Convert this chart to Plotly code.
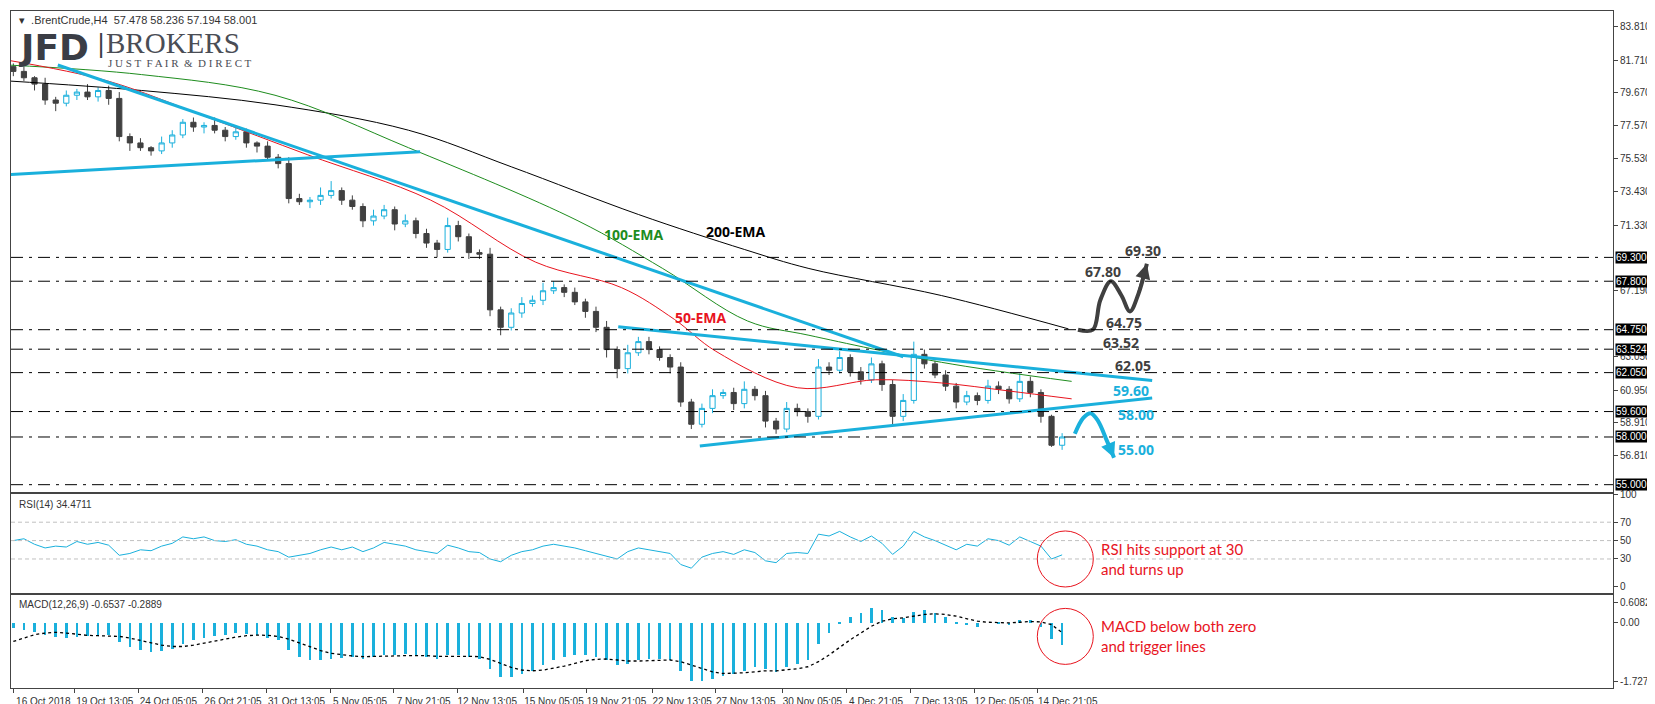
import plotly.graph_objects as go
from plotly.subplots import make_subplots

# ---- price data (H4 bars, condensed) ----
closes = [81.0, 80.6, 80.2, 79.2, 79.0, 79.5, 79.7, 79.4, 79.8, 79.3,
          76.9, 76.5, 76.2, 76.0, 76.5, 77.0, 77.8, 77.5, 77.6, 77.3,
          76.9, 77.2, 76.5, 76.3, 75.6, 75.2, 73.0, 72.8, 72.9, 73.2,
          73.5, 72.9, 72.5, 71.6, 71.9, 72.3, 71.4, 71.6, 70.8, 70.2,
          69.8, 71.3, 70.6, 69.6, 69.5, 66.0, 64.9, 65.8, 66.4, 66.6,
          67.2, 67.4, 67.1, 66.5, 65.9, 64.9, 63.5, 62.3, 63.3, 64.0,
          63.5, 63.0, 62.4, 60.2, 58.8, 59.8, 60.6, 60.8, 60.1, 61.0,
          60.6, 59.0, 58.5, 59.8, 59.6, 59.3, 62.4, 62.2, 63.0, 62.1,
          61.6, 62.6, 61.3, 59.3, 60.3, 63.2, 62.6, 61.9, 61.2, 60.2,
          60.6, 60.3, 61.2, 61.0, 60.4, 61.5, 60.8, 59.3, 57.48, 58.001]
first_open = 81.3
up_wick = [0.2, 0.3, 0.1, 0.4, 0.2, 0.3, 0.2, 0.5, 0.2, 0.3,
           0.4, 0.2, 0.3, 0.1, 0.4, 0.3, 0.2, 0.3, 0.2, 0.5,
           0.2, 0.3, 0.2, 0.1, 0.3, 0.2, 0.4, 0.3, 0.2, 0.5,
           0.6, 0.2, 0.3, 0.2, 0.4, 0.3, 0.2, 0.4, 0.2, 0.3,
           0.2, 0.5, 0.3, 0.2, 0.2, 0.4, 0.2, 0.3, 0.4, 0.3,
           0.5, 0.4, 0.2, 0.3, 0.2, 0.3, 0.4, 0.2, 0.5, 0.3,
           0.3, 0.2, 0.2, 0.3, 0.2, 0.3, 0.4, 0.2, 0.3, 0.5,
           0.2, 0.3, 0.2, 0.4, 0.3, 0.2, 0.5, 0.3, 0.4, 0.2,
           0.3, 0.4, 0.2, 0.3, 0.4, 0.8, 0.3, 0.2, 0.3, 0.2,
           0.3, 0.2, 0.4, 0.3, 0.2, 0.5, 0.3, 0.2, 0.1, 0.24]
lo_wick = [0.3, 0.2, 0.4, 0.3, 0.5, 0.2, 0.3, 0.2, 0.3, 0.4,
           0.3, 0.5, 0.2, 0.3, 0.2, 0.3, 0.2, 0.3, 0.4, 0.2,
           0.3, 0.2, 0.3, 0.4, 0.2, 0.3, 0.3, 0.2, 0.4, 0.3,
           0.2, 0.3, 0.2, 0.4, 0.3, 0.2, 0.4, 0.2, 0.3, 0.3,
           0.5, 0.2, 0.3, 0.4, 0.3, 0.4, 0.5, 0.2, 0.3, 0.2,
           0.3, 0.2, 0.3, 0.2, 0.4, 0.3, 0.5, 0.6, 0.3, 0.2,
           0.3, 0.2, 0.4, 0.3, 0.3, 0.2, 0.3, 0.2, 0.4, 0.3,
           0.3, 0.4, 0.3, 0.2, 0.3, 0.4, 0.2, 0.3, 0.2, 0.3,
           0.3, 0.2, 0.4, 0.5, 0.3, 0.2, 0.3, 0.2, 0.3, 0.4,
           0.2, 0.3, 0.2, 0.3, 0.3, 0.2, 0.3, 0.4, 0.1, 0.29]

# ---- moving averages (sparse readings: bar, price) ----
ema200_x = [-0.5, 12.1, 24.7, 37.3, 47, 59, 69, 75.1, 87.6, 99.6]
ema200_y = [80.4, 79.8, 78.9, 77.3, 75.0, 72.0, 69.8, 68.6, 66.9, 64.8]
ema100_x = [-0.5, 12.1, 24.7, 37.3, 53.3, 61.3, 69.3, 75.1, 87.6, 99.9]
ema100_y = [81.4, 80.8, 79.5, 76.2, 71.6, 68.6, 65.3, 64.4, 62.7, 61.5]
ema50_x = [-0.5, 8.9, 18.4, 27.8, 39.4, 49.3, 57.4, 62.4, 66.3, 74, 81.4, 87.6, 93.9, 99.9]
ema50_y = [81.7, 80.4, 78.1, 75.75, 72.9, 69.0, 67.4, 65.4, 63.4, 61.1, 61.6, 61.4, 60.9, 60.4]

# ---- trend lines ----
trend_lines = [
    ([-0.5, 38.4], [74.5, 75.95]),
    ([4.2, 84.0], [81.4, 63.05]),
    ([57.1, 107.5], [64.94, 61.55]),
    ([64.8, 107.5], [57.44, 60.45]),
]

levels = [69.3, 67.8, 64.75, 63.524, 62.05, 59.6, 58.0, 55.0]
level_text = ["69.300", "67.800", "64.750", "63.524", "62.050", "59.600", "58.000", "55.000"]
price_ticks = [83.81, 81.71, 79.67, 77.57, 75.53, 73.43, 71.33, 67.19, 63.05, 60.95, 58.91, 56.81]

# ---- scenario arrows ----
bull_x = [100.5, 101.9, 102.6, 103.6, 104.6, 105.4, 106.2, 107.0]
bull_y = [64.75, 64.75, 66.6, 67.8, 66.9, 65.9, 67.0, 68.9]
bear_x = [100.2, 101.0, 101.7, 102.4, 103.2, 103.9]
bear_y = [58.2, 59.2, 59.5, 59.0, 57.8, 56.7]

# ---- RSI(14) ----
rsi = [50, 52, 46, 42, 44, 43, 49, 46, 48, 45,
       34, 36, 40, 39, 44, 47, 54, 52, 54, 50,
       49, 51, 46, 44, 40, 38, 32, 34, 36, 40,
       43, 40, 43, 38, 42, 48, 46, 44, 40, 38,
       36, 45, 42, 38, 37, 30, 27, 34, 38, 40,
       44, 46, 44, 42, 39, 36, 33, 30, 38, 42,
       40, 38, 36, 24, 20, 32, 36, 38, 35, 40,
       37, 28, 26, 36, 37, 36, 57, 55, 60, 54,
       49, 55, 47, 35, 44, 60, 54, 50, 45, 40,
       46, 44, 52, 50, 45, 54, 49, 44, 30, 34.47]

# ---- MACD(12,26,9) ----
macd_main = [-0.15, -0.2, -0.25, -0.35, -0.4, -0.42, -0.4, -0.38, -0.36, -0.36,
             -0.55, -0.7, -0.8, -0.85, -0.82, -0.75, -0.6, -0.5, -0.42, -0.38,
             -0.36, -0.3, -0.32, -0.35, -0.42, -0.5, -0.8, -1.0, -1.1, -1.1,
             -1.05, -1.02, -1.0, -1.05, -1.0, -0.95, -0.95, -0.92, -0.95, -1.0,
             -1.05, -0.95, -0.95, -1.0, -1.05, -1.35, -1.6, -1.6, -1.5, -1.4,
             -1.25, -1.1, -1.0, -0.95, -0.95, -1.0, -1.1, -1.25, -1.2, -1.1,
             -1.05, -1.05, -1.1, -1.4, -1.7, -1.72, -1.65, -1.55, -1.5, -1.4,
             -1.3, -1.35, -1.45, -1.3, -1.2, -1.1, -0.6, -0.3, 0.05, 0.2,
             0.3, 0.45, 0.4, 0.2, 0.15, 0.35, 0.4, 0.3, 0.2, 0.05,
             -0.05, -0.1, 0.0, 0.05, -0.05, 0.1, 0.1, -0.1, -0.45, -0.6537]
macd_signal = [-0.55, -0.45, -0.35, -0.3, -0.28, -0.3, -0.34, -0.37, -0.38, -0.38,
               -0.4, -0.45, -0.52, -0.6, -0.66, -0.7, -0.7, -0.66, -0.6, -0.52,
               -0.46, -0.42, -0.38, -0.36, -0.37, -0.4, -0.48, -0.6, -0.72, -0.82,
               -0.9, -0.95, -0.98, -1.0, -1.0, -1.0, -0.98, -0.97, -0.96, -0.97,
               -0.99, -1.0, -0.99, -0.99, -1.0, -1.08, -1.2, -1.32, -1.4, -1.42,
               -1.4, -1.35, -1.28, -1.2, -1.12, -1.08, -1.07, -1.1, -1.13, -1.13,
               -1.12, -1.1, -1.1, -1.15, -1.25, -1.35, -1.45, -1.5, -1.5, -1.48,
               -1.45, -1.42, -1.42, -1.4, -1.36, -1.3, -1.15, -0.95, -0.72, -0.5,
               -0.3, -0.1, 0.05, 0.12, 0.15, 0.2, 0.25, 0.27, 0.25, 0.2,
               0.12, 0.05, 0.02, 0.0, 0.0, 0.02, 0.04, 0.03, -0.05, -0.2889]

date_pos = [0, 5.8, 11.8, 17.9, 23.9, 29.9, 35.9, 41.9, 48.2, 54.1, 60.3, 66.3, 72.6, 78.6, 84.7, 90.7, 96.7]
date_text = ["16 Oct 2018", "19 Oct 13:05", "24 Oct 05:05", "26 Oct 21:05", "31 Oct 13:05",
             "5 Nov 05:05", "7 Nov 21:05", "12 Nov 13:05", "15 Nov 05:05", "19 Nov 21:05",
             "22 Nov 13:05", "27 Nov 13:05", "30 Nov 05:05", "4 Dec 21:05", "7 Dec 13:05",
             "12 Dec 05:05", "14 Dec 21:05"]

CYAN = "#1ab0dc"
DARK = "#404040"
FONT = "Liberation Sans"

bars = list(range(len(closes)))
opens = [first_open] + closes[:-1]
highs = [max(o, c) + w for o, c, w in zip(opens, closes, up_wick)]
lows = [min(o, c) - w for o, c, w in zip(opens, closes, lo_wick)]

fig = make_subplots(rows=3, cols=1, shared_xaxes=True, vertical_spacing=0.003)

fig.add_trace(go.Candlestick(
    x=bars, open=opens, high=highs, low=lows, close=closes,
    increasing=dict(line=dict(color=CYAN, width=1), fillcolor="white"),
    decreasing=dict(line=dict(color=DARK, width=1), fillcolor=DARK),
    whiskerwidth=0, showlegend=False), row=1, col=1)

for xs, ys, col in [(ema200_x, ema200_y, "black"), (ema100_x, ema100_y, "#1e8c1e"),
                    (ema50_x, ema50_y, "#e8141e")]:
    fig.add_trace(go.Scatter(x=xs, y=ys, mode="lines", line=dict(color=col, width=1, shape="spline"),
                             showlegend=False), row=1, col=1)

for xs, ys in trend_lines:
    fig.add_trace(go.Scatter(x=xs, y=ys, mode="lines", line=dict(color=CYAN, width=3),
                             showlegend=False), row=1, col=1)

fig.add_trace(go.Scatter(x=bull_x, y=bull_y, mode="lines",
                         line=dict(color=DARK, width=4, shape="spline"), showlegend=False), row=1, col=1)
fig.add_trace(go.Scatter(x=bear_x, y=bear_y, mode="lines",
                         line=dict(color=CYAN, width=4, shape="spline"), showlegend=False), row=1, col=1)

fig.add_trace(go.Scatter(x=bars, y=rsi, mode="lines", line=dict(color=CYAN, width=1),
                         showlegend=False), row=2, col=1)

fig.add_trace(go.Bar(x=bars, y=macd_main, marker=dict(color=CYAN, line=dict(width=0)),
                     width=0.25, showlegend=False), row=3, col=1)
fig.add_trace(go.Scatter(x=bars, y=macd_signal, mode="lines", line=dict(color="black", width=1.3, dash="dot"),
                         showlegend=False), row=3, col=1)

# level lines and right-side boxes
for lv, txt in zip(levels, level_text):
    fig.add_shape(type="line", xref="x domain", yref="y", x0=0, x1=1, y0=lv, y1=lv,
                  line=dict(color="black", width=1, dash="12px,6px,3px,6px"))
    fig.add_annotation(xref="x domain", yref="y", x=1.001, y=lv, text=txt, showarrow=False,
                       xanchor="left", yanchor="middle", bgcolor="black",
                       font=dict(color="white", size=10, family=FONT), borderpad=0)

for lv in [30, 50, 70]:
    fig.add_shape(type="line", xref="x2 domain", yref="y2", x0=0, x1=1, y0=lv, y1=lv,
                  line=dict(color="#c0c0c0", width=1, dash="4px,3px"))

# arrowheads
for xs, ys, col in [(bull_x, bull_y, DARK), (bear_x, bear_y, CYAN)]:
    fig.add_annotation(x=xs[-1], y=ys[-1], ax=xs[-2], ay=ys[-2], xref="x", yref="y",
                       axref="x", ayref="y", text="", showarrow=True, arrowhead=2,
                       arrowsize=1, arrowwidth=3, arrowcolor=col)

texts = [
    (68.2, 70.9, "200-EMA", "black"), (58.6, 70.75, "100-EMA", "#1e8c1e"), (64.9, 65.5, "50-EMA", "#e8141e"),
    (106.6, 69.75, "69.30", DARK), (102.9, 68.4, "67.80", DARK), (104.8, 65.2, "64.75", DARK),
    (104.6, 63.95, "63.52", DARK), (105.7, 62.5, "62.05", DARK),
    (105.5, 60.9, "59.60", CYAN), (106.0, 59.4, "58.00", CYAN), (106.0, 57.2, "55.00", CYAN),
]
for x, y, t, c in texts:
    fig.add_annotation(x=x, y=y, xref="x", yref="y", text="<b>%s</b>" % t, showarrow=False,
                       font=dict(color=c, size=14, family="Open Sans"))

# red circles and comments
for yr, yc in [("y2", 30), ("y3", -0.4)]:
    fig.add_shape(type="circle", xref="x", yref=yr, xsizemode="pixel", ysizemode="pixel",
                  xanchor=99.3, yanchor=yc, x0=-28, x1=28, y0=-28, y1=28,
                  line=dict(color="#e8141e", width=1))
fig.add_annotation(x=102.5, y=30, xref="x", yref="y2", xanchor="left", yanchor="middle",
                   text="RSI hits support at 30<br>and turns up", showarrow=False, align="left",
                   font=dict(color="#e8141e", size=15, family="Lato"))
fig.add_annotation(x=102.5, y=-0.4, xref="x", yref="y3", xanchor="left", yanchor="middle",
                   text="MACD below both zero<br>and trigger lines", showarrow=False, align="left",
                   font=dict(color="#e8141e", size=15, family="Lato"))

# panel titles and logo
fig.add_annotation(xref="paper", yref="paper", x=0.004, y=0.998, xanchor="left", yanchor="top",
                   text="▾  .BrentCrude,H4  57.478 58.236 57.194 58.001", showarrow=False,
                   font=dict(size=11, color="#333", family=FONT))
fig.add_annotation(xref="paper", yref="paper", x=0.003, y=0.98, xanchor="left", yanchor="top",
                   text="<b>JFD</b>", showarrow=False, font=dict(size=36, color="#3a3d45", family="DejaVu Sans"))
fig.add_annotation(xref="paper", yref="paper", x=0.0525, y=0.975, xanchor="left", yanchor="top",
                   text="|", showarrow=False, font=dict(size=24, color="#3a3d45", family="DejaVu Sans"))
fig.add_annotation(xref="paper", yref="paper", x=0.058, y=0.98, xanchor="left", yanchor="top",
                   text="BROKERS", showarrow=False, font=dict(size=29, color="#4a4d55", family="Liberation Serif"))
fig.add_annotation(xref="paper", yref="paper", x=0.059, y=0.935, xanchor="left", yanchor="top",
                   text="J U S T  F A I R  &amp;  D I R E C T", showarrow=False,
                   font=dict(size=11, color="#4a4d55", family="Liberation Serif"))
fig.add_annotation(xref="x2 domain", yref="y2 domain", x=0.004, y=0.97, xanchor="left", yanchor="top",
                   text="RSI(14) 34.4711", showarrow=False, font=dict(size=10, color="#333", family=FONT))
fig.add_annotation(xref="x3 domain", yref="y3 domain", x=0.004, y=0.97, xanchor="left", yanchor="top",
                   text="MACD(12,26,9) -0.6537 -0.2889", showarrow=False, font=dict(size=10, color="#333", family=FONT))

axis_common = dict(showline=True, linecolor="#444", linewidth=1, mirror=True, showgrid=False,
                   zeroline=False, ticks="outside", ticklen=4, tickcolor="#444", automargin=False,
                   tickfont=dict(size=10, color="#333", family=FONT))
for i in (1, 2, 3):
    fig.update_xaxes(axis_common, range=[-0.22, 151], rangeslider_visible=False, row=i, col=1)
fig.update_xaxes(ticks="", showticklabels=False, row=1, col=1)
fig.update_xaxes(ticks="", showticklabels=False, row=2, col=1)
fig.update_xaxes(tickvals=date_pos, ticktext=date_text, tickangle=0, ticklabelshift=30,
                 tickfont=dict(size=10, color="#333", family=FONT), row=3, col=1)

fig.update_yaxes(axis_common, side="right", row=1, col=1, range=[54.56, 84.8],
                 tickvals=price_ticks, ticktext=["%.3f" % v for v in price_ticks], domain=[0.29, 1])
fig.update_yaxes(axis_common, side="right", row=2, col=1, range=[-6.5, 101],
                 tickvals=[0, 30, 50, 70, 100], domain=[0.141, 0.287])
fig.update_yaxes(axis_common, side="right", row=3, col=1, range=[-1.93, 0.84],
                 tickvals=[0.6082, 0.0, -1.7279], ticktext=["0.6082", "0.00", "-1.7279"], domain=[0, 0.138])

fig.update_layout(width=1655, height=704, margin=dict(l=3, r=50, t=3, b=24),
                  paper_bgcolor="white", plot_bgcolor="white", bargap=0, showlegend=False)

fig.write_html("out.html")
